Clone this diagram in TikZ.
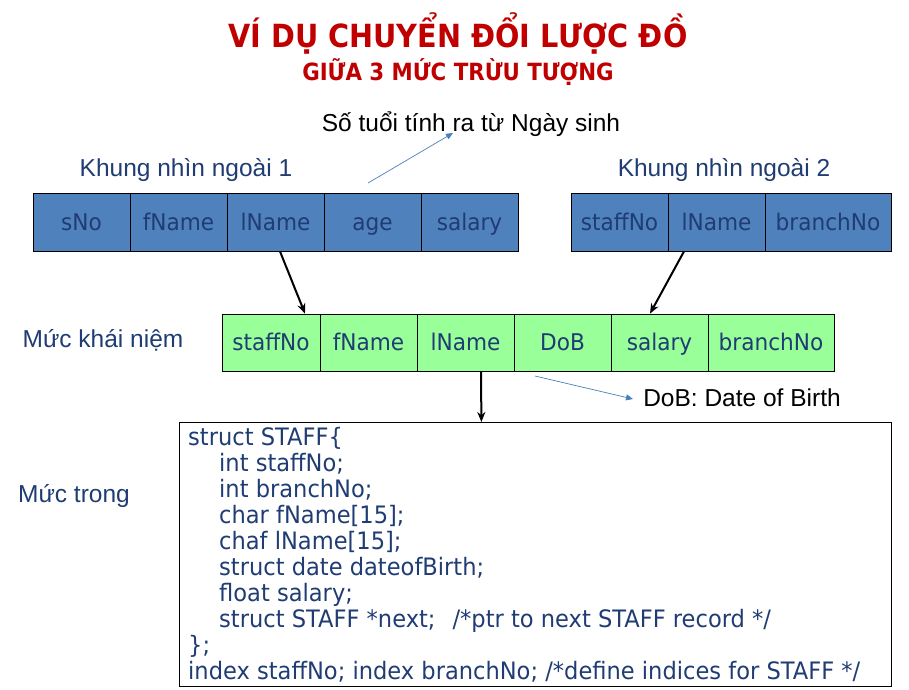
\documentclass[tikz,border=0pt]{standalone}
\usepackage{fontspec}
\setmainfont{Liberation Sans}
\newfontfamily\tah[FakeStretch=0.94]{DejaVu Sans}
\newfontfamily\titlef[FakeStretch=0.9]{DejaVu Sans}
\usetikzlibrary{arrows.meta,calc}
\definecolor{tred}{HTML}{C00000}
\definecolor{dblue}{HTML}{1F3C73}
\definecolor{lblue}{HTML}{4F81BD}
\definecolor{lgreen}{HTML}{99FF99}
\definecolor{abl}{HTML}{4A7EBB}
\begin{document}
\begin{tikzpicture}[x=1pt,y=-1pt,
  cellb/.style={draw=black, line width=0.8pt, fill=lblue, minimum height=58pt, inner sep=0pt, text height=17pt, text depth=0pt, font=\tah\fontsize{23}{26}\selectfont, text=dblue},
  cellg/.style={draw=black, line width=0.8pt, fill=lgreen, minimum height=57pt, inner sep=0pt, text height=16.5pt, text depth=0pt, font=\tah\fontsize{23}{26}\selectfont, text=dblue},
  lab/.style={font=\fontsize{24.5}{28}\selectfont, text=dblue, inner sep=0pt},
  note/.style={font=\fontsize{24.5}{28}\selectfont, text=black, inner sep=0pt},
  bigarrow/.style={-{Stealth[length=10pt,width=8pt]}, line width=2pt, black},
  thinarrow/.style={-{Triangle[length=7pt,width=6pt]}, line width=0.7pt, abl}]
\useasboundingbox (0,0) rectangle (909,689);
% title
\node[font=\titlef\bfseries\fontsize{31.9}{36}\selectfont, text=tred, inner sep=0pt] (t1) at (458,33) {VÍ DỤ CHUYỂN ĐỔI LƯỢC ĐỒ};
\node[font=\titlef\bfseries\fontsize{23.7}{28}\selectfont, text=tred, inner sep=0pt] (t2) at (458,72) {GIỮA 3 MỨC TRỪU TƯỢNG};
% labels
\node[note] (note1) at (471,124) {Số tuổi tính ra từ Ngày sinh};
\node[lab] (k1) at (186,170) {Khung nhìn ngoài 1};
\node[lab] (k2) at (724,170) {Khung nhìn ngoài 2};
\node[lab] (m1) at (103,340) {Mức khái niệm};
\node[lab] (m2) at (74,496) {Mức trong};
\node[note] (note2) at (742,398) {DoB: Date of Birth};
% external 1
\node[cellb, minimum width=97pt] (e1) at (81.5,222) {sNo};
\node[cellb, minimum width=97pt] (e2) at (178.5,222) {fName};
\node[cellb, minimum width=97pt] (e3) at (275.5,222) {lName};
\node[cellb, minimum width=97pt] (e4) at (372.5,222) {age};
\node[cellb, minimum width=97pt] (e5) at (469.5,222) {salary};
% external 2
\node[cellb, minimum width=97pt] (f1) at (619.5,222) {staffNo};
\node[cellb, minimum width=97pt] (f2) at (716.5,222) {lName};
\node[cellb, minimum width=126pt] (f3) at (828,222) {branchNo};
% conceptual
\node[cellg, minimum width=98pt] (c1) at (271,342.5) {staffNo};
\node[cellg, minimum width=97pt] (c2) at (368.5,342.5) {fName};
\node[cellg, minimum width=97pt] (c3) at (465.5,342.5) {lName};
\node[cellg, minimum width=97pt] (c4) at (562.5,342.5) {DoB};
\node[cellg, minimum width=97pt] (c5) at (659.5,342.5) {salary};
\node[cellg, minimum width=126pt] (c6) at (771,342.5) {branchNo};
% internal
\node[draw=black, line width=0.8pt, minimum width=712pt, minimum height=264pt, anchor=north west, inner sep=0pt] (code) at (179,422) {};
\node[anchor=north west, inner sep=0pt, align=left, text=dblue, font=\tah\fontsize{24}{26}\selectfont] (codetext) at (188,427) {%
struct STAFF\{\\
\hspace*{31pt}int staffNo;\\
\hspace*{31pt}int branchNo;\\
\hspace*{31pt}char fName[15];\\
\hspace*{31pt}chaf lName[15];\\
\hspace*{31pt}struct date dateofBirth;\\
\hspace*{31pt}float salary;\\
\hspace*{31pt}struct STAFF *next;\hspace*{17pt}/*ptr to next STAFF record */\\
\};\\
index staffNo; index branchNo; /*define indices for STAFF */};
% arrows
\coordinate (a1s) at (368,183);
\coordinate (a1e) at (453,133);
\draw[thinarrow] (a1s) -- (a1e);
\coordinate (a2s) at (535,376);
\coordinate (a2e) at (633,399);
\draw[thinarrow] (a2s) -- (a2e);
\draw[bigarrow] ($(e3.south)+(4.5,0)$) -- ($(c1.north)+(34,0)$);
\draw[bigarrow] ($(f2.south)+(-32.5,0)$) -- ($(c5.north)+(-9.5,0)$);
\draw[bigarrow] ($(c3.south)+(15.5,0)$) -- ($(code.north)+(-54,0)$);
\end{tikzpicture}
\end{document}
